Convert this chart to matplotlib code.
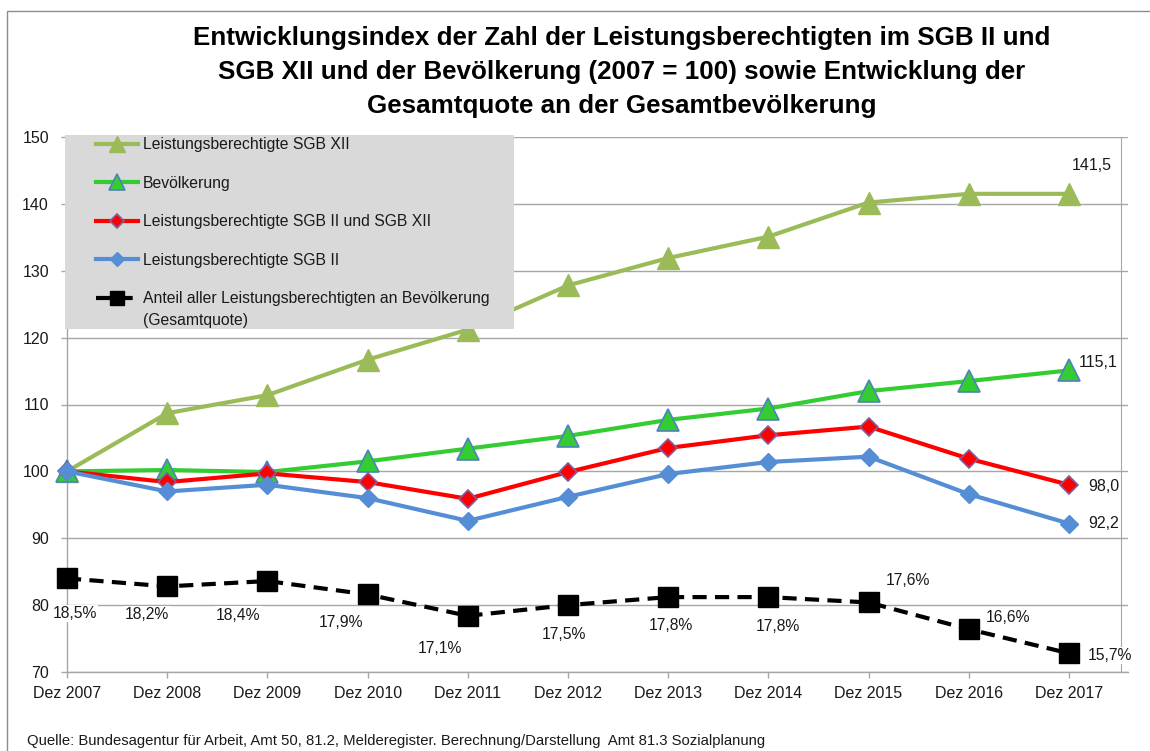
import matplotlib
matplotlib.use("Agg")
import matplotlib.pyplot as plt
from matplotlib import font_manager
from matplotlib.patches import Rectangle

# ---- data -------------------------------------------------------------
years = ["Dez 2007", "Dez 2008", "Dez 2009", "Dez 2010", "Dez 2011", "Dez 2012",
         "Dez 2013", "Dez 2014", "Dez 2015", "Dez 2016", "Dez 2017"]
sgb12 = [100.0, 108.7, 111.4, 116.7, 121.2, 127.8, 131.9, 135.1, 140.2, 141.5, 141.5]
bevoelkerung = [100.0, 100.2, 99.9, 101.5, 103.4, 105.3, 107.7, 109.4, 112.0, 113.5, 115.1]
sgb2_12 = [100.0, 98.4, 99.7, 98.4, 95.9, 99.9, 103.5, 105.4, 106.7, 101.9, 98.0]
sgb2 = [100.0, 97.0, 98.0, 96.0, 92.6, 96.2, 99.6, 101.4, 102.2, 96.6, 92.2]
gesamtquote = [18.5, 18.2, 18.4, 17.9, 17.1, 17.5, 17.8, 17.8, 17.6, 16.6, 15.7]

y_ticks = [70, 80, 90, 100, 110, 120, 130, 140, 150]

labels = ["Leistungsberechtigte SGB XII",
          "Bevölkerung",
          "Leistungsberechtigte SGB II und SGB XII",
          "Leistungsberechtigte SGB II",
          "Anteil aller Leistungsberechtigten an Bevölkerung"]
label_suffix = "(Gesamtquote)"

title = ("Entwicklungsindex der Zahl der Leistungsberechtigten im SGB II und\n"
         "SGB XII und der Bevölkerung (2007 = 100) sowie Entwicklung der\n"
         "Gesamtquote an der Gesamtbevölkerung")
source = ("Quelle: Bundesagentur für Arbeit, Amt 50, 81.2, Melderegister. "
          "Berechnung/Darstellung  Amt 81.3 Sozialplanung")

# ---- fonts ------------------------------------------------------------
installed = {f.name for f in font_manager.fontManager.ttflist}
base = "Liberation Sans Narrow" if "Liberation Sans Narrow" in installed else "Liberation Sans"
plt.rcParams["font.family"] = [base, "DejaVu Sans"]

def fmt(v, pct=False):
    s = f"{v:.1f}".replace(".", ",")
    return s + "%" if pct else s

# ---- colours ----------------------------------------------------------
c_olive = "#9BBB59"
c_green = "#33CC33"
c_red = "#FF0000"
c_blue = "#558ED5"
c_grid = "#A6A6A6"
c_text = "#1a1a1a"

W, H = 1150, 751
fig = plt.figure(figsize=(W / 100, H / 100), dpi=100)

# outer chart border
fig.patches.append(Rectangle((7 / W, -0.02), 1.2, 1 - 11 / H + 0.02,
                             transform=fig.transFigure, fill=False,
                             edgecolor="#8C8C8C", lw=1.0, zorder=0))

ax = fig.add_axes([67 / W, 1 - 672 / H, (1128 - 67) / W, (672 - 137) / H])
x = list(range(len(years)))
ax.set_xlim(0, 10.59)
ax.set_ylim(70, 150)
ax.set_yticks(y_ticks)
ax.set_xticks(x)
ax.set_xticklabels(years)
ax.yaxis.grid(True, color=c_grid, lw=1.0)
ax.set_axisbelow(True)
for side in ("top", "right"):
    ax.spines[side].set_visible(False)
for side in ("left", "bottom"):
    ax.spines[side].set_color(c_grid)
    ax.spines[side].set_linewidth(1.0)
ax.tick_params(axis="both", color=c_grid, length=4, width=1, labelsize=11.5,
               labelcolor=c_text)
ax.tick_params(axis="x", pad=6)
ax.tick_params(axis="y", pad=9)

lw = 3.0
h1, = ax.plot(x, sgb12, color=c_olive, lw=lw, marker="^", ms=16,
              mfc=c_olive, mec=c_olive, zorder=3, clip_on=False)
h2, = ax.plot(x, bevoelkerung, color=c_green, lw=lw, marker="^", ms=16,
              mfc=c_green, mec="#4F81BD", mew=1.2, zorder=3, clip_on=False)
h3, = ax.plot(x, sgb2_12, color=c_red, lw=lw, marker="D", ms=9.5,
              mfc=c_red, mec="#7E5FA0", mew=1.2, zorder=3, clip_on=False)
h4, = ax.plot(x, sgb2, color=c_blue, lw=lw, marker="D", ms=9.5,
              mfc=c_blue, mec=c_blue, zorder=3, clip_on=False)

# secondary axis for the share of the population
ax2 = ax.twinx()
ax2.set_ylim(15, 35)
ax2.set_yticks([])
for side in ("top", "left", "bottom"):
    ax2.spines[side].set_visible(False)
ax2.spines["right"].set_position(("data", 10.52))
ax2.spines["right"].set_color(c_grid)
h5, = ax2.plot(x, gesamtquote, color="black", lw=3.0, ls=(0, (3.4, 2.0)),
               marker="s", ms=14.5, mfc="black", mec="black", zorder=3,
               clip_on=False)

box = dict(boxstyle="square,pad=0.08", fc="white", ec="none")

# index labels for the last year
end_labels = [(sgb12[-1], (3, 28)),
              (bevoelkerung[-1], (10, 8)),
              (sgb2_12[-1], (19, -2)),
              (sgb2[-1], (19, 0))]
for v, off in end_labels:
    ax2.annotate(fmt(v), xy=(x[-1], v), xycoords=ax.transData,
                 xytext=off, textcoords="offset pixels", ha="left", va="center",
                 fontsize=11.5, color=c_text, bbox=box, zorder=6)

# share labels
quote_offsets = [(8, -35), (-20, -28), (-29, -34), (-27, -28), (-28, -33),
                 (-4, -29), (3, -28), (10, -29), (39, 22), (39, 12), (41, -2)]
for xi, v, off in zip(x, gesamtquote, quote_offsets):
    ax2.annotate(fmt(v, pct=True), xy=(xi, v), xytext=off,
                 textcoords="offset pixels", ha="center", va="center",
                 fontsize=11.3, color=c_text, bbox=box, zorder=6)

# legend on a grey panel
fig.patches.append(Rectangle((65 / W, 1 - 329 / H), (514 - 65) / W, (329 - 135) / H,
                             transform=fig.transFigure, facecolor="#D9D9D9",
                             edgecolor="none", zorder=4))
leg = fig.legend([h1, h2, h3, h4, h5], labels, loc="upper left",
                 bbox_to_anchor=(96 / W, 1 - 137 / H), bbox_transform=fig.transFigure,
                 frameon=False, borderpad=0, borderaxespad=0, handlelength=2.68,
                 handletextpad=0.3, labelspacing=1.5, fontsize=11.3,
                 markerscale=0.7)
leg.set_zorder(5)
for t in leg.get_texts():
    t.set_color(c_text)

# second line of the last legend entry, placed under its first line
fig.canvas.draw()
last = leg.get_texts()[-1].get_window_extent()
fig.text(last.x0 / W, (last.y0 - 14) / H, label_suffix, ha="left", va="center",
         fontsize=11.3, color=c_text, zorder=6)

fig.text(622 / W, 1 - 72 / H, title, ha="center", va="center", fontsize=18.7,
         fontweight="bold", linespacing=1.5)
fig.text(27 / W, 1 - 741 / H, source, ha="left", va="center", fontsize=10.7,
         color=c_text)

fig.savefig("out.png", dpi=100)
